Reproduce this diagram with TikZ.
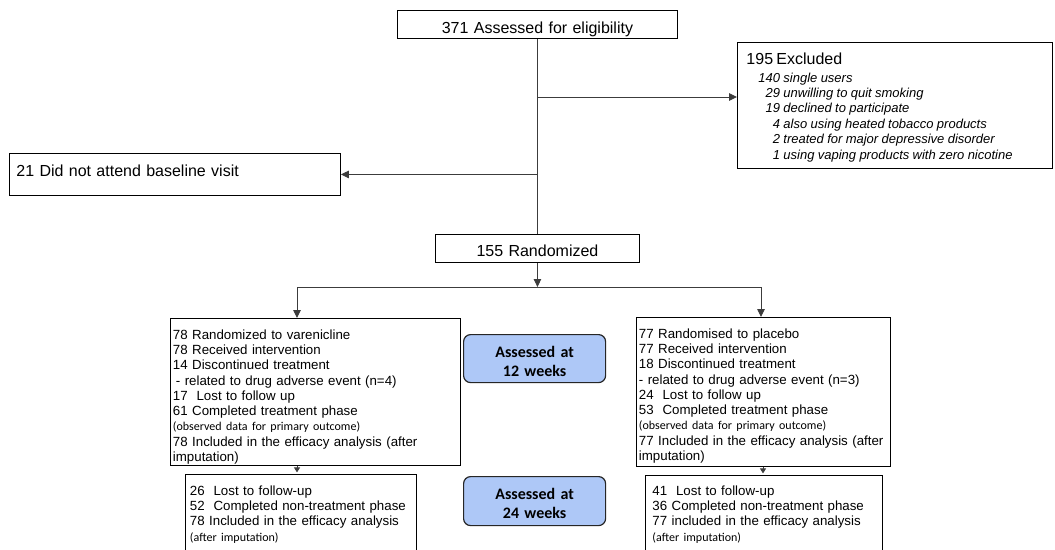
\documentclass[tikz,border=0pt]{standalone}
\usepackage{fontspec}
\setmainfont{Liberation Sans}
\newfontfamily\carl{Carlito}
\usetikzlibrary{arrows.meta}
\definecolor{bluefill}{HTML}{AEC8F7}
\definecolor{lineclr}{HTML}{3C3C3C}
\newcommand\myfs[2]{\fontsize{#1}{#2}\selectfont}
\begin{document}
\begin{tikzpicture}[x=1pt,y=-1pt,
  box/.style={draw=black, line width=0.9pt, anchor=north west, inner ysep=0pt, align=left},
  conn/.style={draw=lineclr, line width=0.9pt},
  arr/.style={conn, -{Triangle[length=8pt,width=7.5pt]}},
  arrs/.style={conn, -{Triangle[length=5pt,width=6pt]}},
  bluebox/.style={draw=black!85, line width=1.2pt, fill=bluefill, rounded corners=7pt,
    anchor=north west, inner xsep=0pt, inner ysep=0pt, align=center, text width=142pt,
    font=\carl\bfseries\myfs{16}{19}},
  body/.style={font=\myfs{13.3}{15.25}},
  small/.style={font=\carl\myfs{12}{15.25}}
]
\fill[white] (0,0) rectangle (1055,549);
\useasboundingbox (0,0) rectangle (1055,549);

% boxes
\node[box, align=center, inner xsep=0pt, text width=280pt, text height=23pt, text depth=5pt,
  font=\myfs{16}{19}] (top) at (397,10) {371 Assessed for eligibility};

\node[box, inner xsep=9pt, text width=297pt, text height=21.7pt, text depth=104.3pt] (excl) at (737,42)
{\myfs{13}{15.4}\itshape
\begin{tabular}[t]{@{\hspace{12pt}}r@{\ }l@{}}
\multicolumn{2}{@{}l@{}}{\upshape\myfs{16}{15.4}195 Excluded}\\[2.6pt]
140 & single users\\
29 & unwilling to quit smoking\\
19 & declined to participate\\
4 & also using heated tobacco products\\
2 & treated for major depressive disorder\\
1 & using vaping products with zero nicotine
\end{tabular}};

\node[box, inner xsep=7pt, text width=317pt, text height=23pt, text depth=19pt,
  font=\myfs{16}{19}] (nb) at (9,153) {21 Did not attend baseline visit};

\node[box, align=center, inner xsep=0pt, text width=204pt, text height=22pt, text depth=6pt,
  font=\myfs{16}{19}] (rand) at (435,234) {155 Randomized};

\node[box, body, inner xsep=2.5pt, text width=285pt, text height=21pt, text depth=126pt] (varen) at (170,318)
{78 Randomized to varenicline\\
78 Received intervention\\
14 Discontinued treatment\\
\hspace*{3pt}- related to drug adverse event (n=4)\\
17\ \ Lost to follow up\\
61 Completed treatment phase\\
{\carl\myfs{12}{15.25}(observed data for primary outcome)}\\
\mbox{78 Included in the efficacy analysis (after}\\
imputation)};

\node[box, body, inner xsep=2.5pt, text width=249pt, text height=21pt, text depth=128pt] (plac) at (636,317)
{77 Randomised to placebo\\
77 Received intervention\\
18 Discontinued treatment\\
- related to drug adverse event (n=3)\\
24\ \ Lost to follow up\\
53\ \ Completed treatment phase\\
{\carl\myfs{12}{15.25}(observed data for primary outcome)}\\
\mbox{77 Included in the efficacy analysis (after}\\
imputation)};

\node[box, body, inner xsep=4.5pt, text width=222pt, text height=21pt, text depth=61pt] (fua) at (185,474)
{26\ \ Lost to follow-up\\
52\ \ Completed non-treatment phase\\
78 Included in the efficacy analysis\\
{\carl\myfs{12}{15.25}(after imputation)}};

\node[box, body, inner xsep=7pt, text width=223pt, text height=20pt, text depth=61pt] (fub) at (645,475)
{41\ \ Lost to follow-up\\
36 Completed non-treatment phase\\
77 included in the efficacy analysis\\
{\carl\myfs{12}{15.25}(after imputation)}};

\node[bluebox, text height=23pt, text depth=25pt] (w12) at (463,334) {Assessed at\\12 weeks};
\node[bluebox, text height=23pt, text depth=26pt] (w24) at (463,476) {Assessed at\\24 weeks};

% connectors
\draw[conn] (top.south) -- (top.south |- rand.north);
\coordinate (j1) at (top.south |- 0,97);
\draw[arr] (j1) -- (j1 -| excl.west);
\draw[arr] (top.south |- nb.east) -- (nb.east);
\coordinate (split) at (rand.south |- 0,287);
\draw[arr] (rand.south) -- (split);
\coordinate (sl) at (297,287);
\coordinate (sr) at (761,287);
\draw[conn] (sl) -- (sr);
\draw[arr] (sl) -- (sl |- varen.north);
\draw[arr] (sr) -- (sr |- plac.north);
\coordinate (sr2) at (763,287);
\draw[arrs] (varen.south -| sl) -- ++(0,6.5);
\draw[arrs] (plac.south -| sr2) -- ++(0,6.5);
\end{tikzpicture}
\end{document}
